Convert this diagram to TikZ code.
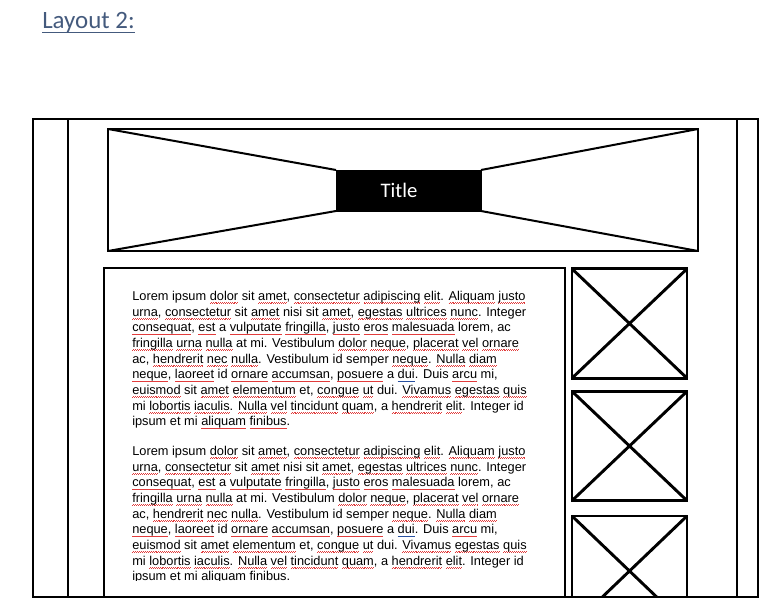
\documentclass[tikz,border=0pt]{standalone}
\usepackage{fontspec}
\newfontfamily\arialf{Liberation Sans}
\newfontfamily\calib{Carlito}
\definecolor{headblue}{RGB}{68,90,125}
\definecolor{sqred}{RGB}{225,60,60}
\definecolor{ulblue}{RGB}{40,80,160}
\newsavebox\sqbox
\newcommand\sq[1]{\sbox\sqbox{#1}\rlap{\color{sqred}\hbox to \wd\sqbox{\xleaders\hbox{\rule[-2.5pt]{0.7pt}{0.5pt}\rule[-1.9pt]{0.7pt}{0.5pt}}\hfill}}\usebox\sqbox}
\newcommand\bl[1]{\sbox\sqbox{#1}\rlap{\color{ulblue}\rule[-2.1pt]{\wd\sqbox}{0.6pt}}\usebox\sqbox}
\newcommand\LA{Lorem ipsum \sq{dolor} sit \sq{amet}, \sq{consectetur} \sq{adipiscing} \sq{elit}. \sq{Aliquam} \sq{justo}}
\newcommand\LB{\sq{urna}, \sq{consectetur} sit \sq{amet} nisi sit \sq{amet}, \sq{egestas} \sq{ultrices} \sq{nunc}. Integer}
\newcommand\LC{\sq{consequat}, \sq{est} a \sq{vulputate} \sq{fringilla}, \sq{justo} \sq{eros} \sq{malesuada} lorem, ac}
\newcommand\LD{\sq{fringilla} \sq{urna} \sq{nulla} at mi. Vestibulum \sq{dolor} \sq{neque}, \sq{placerat} \sq{vel} \sq{ornare}}
\newcommand\LE{ac, \sq{hendrerit} \sq{nec} \sq{nulla}. Vestibulum id semper \sq{neque}. \sq{Nulla} \sq{diam}}
\newcommand\LF{\sq{neque}, \sq{laoreet} id \sq{ornare} \sq{accumsan}, \sq{posuere} a \bl{dui}. Duis \sq{arcu} mi,}
\newcommand\LG{\sq{euismod} sit \sq{amet} \sq{elementum} et, \sq{congue} \sq{ut} dui. \sq{Vivamus} \sq{egestas} \sq{quis}}
\newcommand\LH{mi \sq{lobortis} \sq{iaculis}. \sq{Nulla} \sq{vel} \sq{tincidunt} \sq{quam}, a \sq{hendrerit} \sq{elit}. Integer id}
\newcommand\LI{ipsum et mi \sq{aliquam} \sq{finibus}.}
\tikzset{
  frameline/.style={line width=1.9pt},
  thinline/.style={line width=1.5pt},
  thickline/.style={line width=2.2pt},
  bannerbox/.style={draw, thinline, rectangle, inner sep=0pt, outer sep=0pt},
  titlebox/.style={fill=black, draw=black, rectangle, inner sep=0pt, outer sep=0pt},
  imgbox/.style={draw, thickline, rectangle, inner sep=0pt, outer sep=0pt,
     minimum width=86.25pt, minimum height=82pt},
  txt/.style={anchor=base west, inner sep=0pt, font=\fontsize{9.6}{11}\arialf},
}
\begin{document}
\begin{tikzpicture}[x=0.75pt,y=-0.75pt]
\useasboundingbox (0,0) rectangle (764,606);
% heading
\node[anchor=base west, inner sep=0pt, text=headblue, font=\fontsize{18.7}{22}\calib] (heading) at (42,29) {Layout 2:};
\draw[headblue, line width=0.8pt] ([yshift=-2.7pt]heading.base west) -- ([yshift=-2.7pt]heading.base east);
% outer frame
\draw[frameline] (33,119) rectangle (758,597);
\coordinate (lt) at (68,119); \coordinate (lb) at (68,597);
\coordinate (rt) at (737,119); \coordinate (rb) at (737,597);
\draw[thinline] (lt) -- (lb);
\draw[thinline] (rt) -- (rb);
% banner
\node[bannerbox, minimum width=442.5pt, minimum height=91.5pt] (banner) at (403,190) {};
\node[titlebox, minimum width=108.75pt, minimum height=30.75pt] (tbox) at (408.5,190.5) {};
\node[anchor=base, inner sep=0pt, text=white, font=\fontsize{15.5}{18}\calib] (ttext) at (399,197.5) {Title};
\draw[thinline] (banner.north west) -- (tbox.north west);
\draw[thinline] (banner.south west) -- (tbox.south west);
\draw[thinline] (banner.north east) -- (tbox.north east);
\draw[thinline] (banner.south east) -- (tbox.south east);
% text box
\coordinate (tbl) at (104,597); \coordinate (ttl) at (104,268);
\coordinate (ttr) at (565,268); \coordinate (tbr) at (565,597);
\draw[thickline] (tbl) -- (ttl) -- (ttr) -- (tbr);
% text
\foreach \mytext [count=\i from 0] in {\LA,\LB,\LC,\LD,\LE,\LF,\LG,\LH,\LI}{
  \node[txt] (pa\i) at (132,{300.5+15.65*\i}) {\mytext};
}
\begin{scope}
\clip (106,440) rectangle (563,580.5);
\foreach \mytext [count=\i from 0] in {\LA,\LB,\LC,\LD,\LE,\LF,\LG,\LH,\LI}{
  \node[txt] (pb\i) at (132,{455.5+15.65*\i}) {\mytext};
}
\end{scope}
% image boxes
\node[imgbox] (img1) at (629.5,323.5) {};
\node[imgbox] (img2) at (629.5,446) {};
\draw[thickline] (img1.north west) -- (img1.south east);
\draw[thickline] (img1.south west) -- (img1.north east);
\draw[thickline] (img2.north west) -- (img2.south east);
\draw[thickline] (img2.south west) -- (img2.north east);
\begin{scope}
\clip (560,505) rectangle (700,596);
\node[imgbox, minimum height=82.5pt] (img3) at (629.5,571) {};
\draw[thickline] (img3.north west) -- (img3.south east);
\draw[thickline] (img3.south west) -- (img3.north east);
\end{scope}
\end{tikzpicture}
\end{document}
